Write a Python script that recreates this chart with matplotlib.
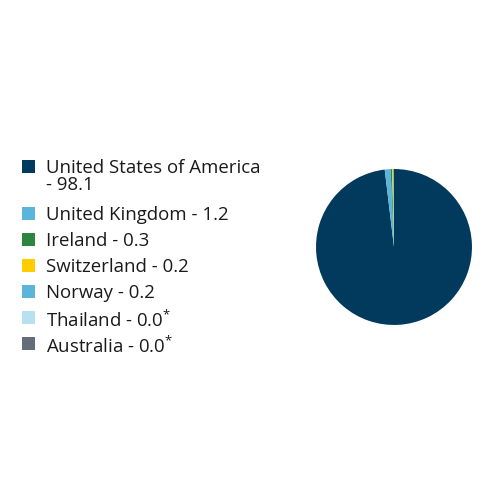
import matplotlib
matplotlib.use('Agg')
import matplotlib.pyplot as plt
from matplotlib.patches import Rectangle

countries = ['United States of America', 'United Kingdom', 'Ireland', 'Switzerland',
             'Norway', 'Thailand', 'Australia']
values = [98.1, 1.2, 0.3, 0.2, 0.2, 0.0, 0.0]
labels = ['United States of America\n- 98.1', 'United Kingdom - 1.2', 'Ireland - 0.3',
          'Switzerland - 0.2', 'Norway - 0.2', 'Thailand - 0.0$^{*}$', 'Australia - 0.0$^{*}$']
colors = ['#023a5e', '#5ab4dc', '#2e8540', '#ffcc00', '#5ab4dc', '#b8e0f0', '#636e78']

plt.rcParams['font.family'] = ['Open Sans', 'DejaVu Sans']
plt.rcParams['mathtext.fontset'] = 'custom'
plt.rcParams['mathtext.rm'] = 'Open Sans'
plt.rcParams['mathtext.it'] = 'Open Sans'

fig = plt.figure(figsize=(4.92, 5.04), dpi=100)

# pie
ax = fig.add_axes([0.6423, 0.3552, 0.317, 0.3095])
ax.pie(values, colors=colors, startangle=90, counterclock=False,
       wedgeprops={'linewidth': 0})
ax.set_aspect('equal')
ax.set_xlim(-1, 1)
ax.set_ylim(-1, 1)

# legend, pixel coordinates
lax = fig.add_axes([0, 0, 1, 1])
lax.set_xlim(0, 492)
lax.set_ylim(504, 0)
lax.axis('off')
y = 166
for lab, c in zip(labels, colors):
    lax.add_patch(Rectangle((22, y - 6.5), 13, 13, color=c, lw=0))
    lax.text(46, y - 7, lab, fontsize=13.4, color='#1a1a1a', va='top', ha='left',
             linespacing=0.9)
    y += 26 + 21 * lab.count('\n')

fig.savefig('out.png', dpi=100)
